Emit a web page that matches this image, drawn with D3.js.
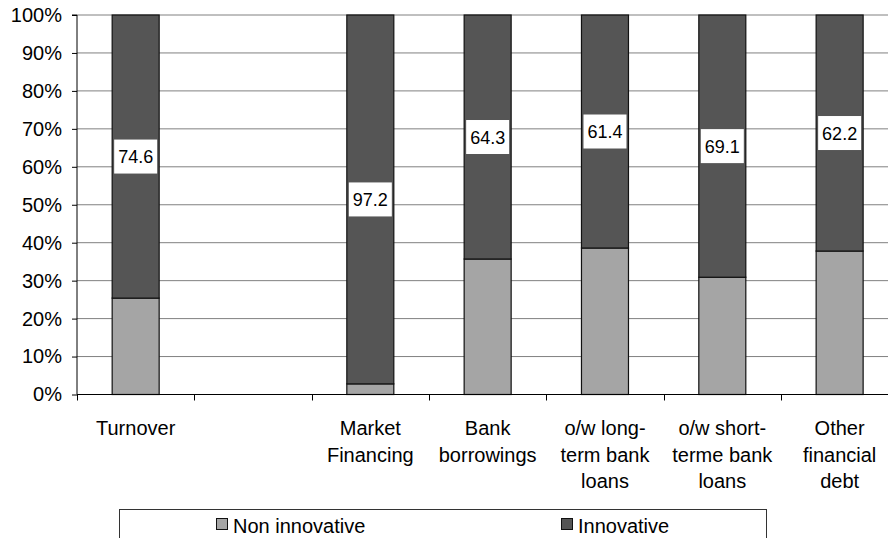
<!DOCTYPE html>
<html>
<head>
<meta charset="utf-8">
<script src="https://cdn.jsdelivr.net/npm/d3@7"></script>
<style>
  html, body { margin: 0; padding: 0; background: #fff; }
  svg { display: block; font-family: "Liberation Sans", Arial, sans-serif; }
</style>
</head>
<body>
<svg id="chart" width="888" height="538"></svg>
<script>
// Category labels, one array entry per line of text ("" = empty slot)
const categories = [
  ["Turnover"],
  [""],
  ["Market", "Financing"],
  ["Bank", "borrowings"],
  ["o/w long-", "term bank", "loans"],
  ["o/w short-", "terme bank", "loans"],
  ["Other", "financial", "debt"]
];
// Shares (%) of each financing item
const nonInnovative = [25.4, null, 2.8, 35.7, 38.6, 30.9, 37.8];
const innovative    = [74.6, null, 97.2, 64.3, 61.4, 69.1, 62.2];
const yTicks = [0, 10, 20, 30, 40, 50, 60, 70, 80, 90, 100];
const seriesNames = ["Non innovative", "Innovative"];
const seriesColors = ["#a5a5a5", "#555555"];

const svg = d3.select("#chart");
const plotLeft = 77, plotRight = 898.3, plotTop = 15, plotBottom = 394.5;

const x = d3.scaleBand().domain(d3.range(categories.length)).range([plotLeft, plotRight]).padding(0);
const y = d3.scaleLinear().domain([0, 100]).range([plotBottom, plotTop]);
const barW = 47;

// Horizontal gridlines
svg.append("g")
  .selectAll("line")
  .data(yTicks.filter(t => t > 0))
  .join("line")
  .attr("x1", plotLeft).attr("x2", 888)
  .attr("y1", d => y(d)).attr("y2", d => y(d))
  .attr("stroke", "#808080").attr("stroke-width", 1);

// Stacked bars
const rows = categories.map((c, i) => ({ i, non: nonInnovative[i], inn: innovative[i] }))
  .filter(r => r.non != null);
const stack = d3.stack().keys(["non", "inn"]);
const layers = stack(rows);

svg.append("g")
  .selectAll("g")
  .data(layers)
  .join("g")
  .attr("fill", (d, k) => seriesColors[k])
  .selectAll("rect")
  .data(d => d)
  .join("rect")
  .attr("x", d => x(d.data.i) + x.bandwidth() / 2 - barW / 2)
  .attr("width", barW)
  .attr("y", d => y(d[1]))
  .attr("height", d => y(d[0]) - y(d[1]))
  .attr("stroke", "#111")
  .attr("stroke-width", 1.2);

// Y axis
const yAxis = d3.axisLeft(y).tickValues(yTicks).tickFormat(d => d + "%").tickSize(5).tickPadding(10);
const gy = svg.append("g").attr("transform", `translate(${plotLeft},0)`).call(yAxis);
gy.select(".domain").attr("stroke", "#000").attr("d", `M-5,${plotTop}H0V${plotBottom}`);
gy.selectAll(".tick line").attr("stroke", "#000");
gy.selectAll(".tick text").attr("font-size", 20).attr("fill", "#000")
  .attr("font-family", "'Liberation Sans', Arial, sans-serif");

// X axis with ticks on band boundaries
const gx = svg.append("g");
gx.append("line")
  .attr("x1", plotLeft).attr("x2", 888)
  .attr("y1", plotBottom).attr("y2", plotBottom)
  .attr("stroke", "#000");
gx.selectAll("line.tk")
  .data(d3.range(categories.length + 1))
  .join("line")
  .attr("class", "tk")
  .attr("x1", i => Math.round(plotLeft + i * x.bandwidth()) + 0.5)
  .attr("x2", i => Math.round(plotLeft + i * x.bandwidth()) + 0.5)
  .attr("y1", plotBottom).attr("y2", plotBottom + 6)
  .attr("stroke", "#000");

// Category labels
const lab = svg.append("g").attr("font-size", 20).attr("fill", "#000").attr("text-anchor", "middle");
categories.forEach((lines, i) => {
  const t = lab.append("text").attr("x", x(i) + x.bandwidth() / 2);
  lines.forEach((ln, k) => {
    t.append("tspan")
      .attr("x", x(i) + x.bandwidth() / 2)
      .attr("y", 435 + k * 26.5)
      .text(ln);
  });
});

// Value labels in white boxes, centred on the innovative segment
const innLayer = layers[1];
const vl = svg.append("g");
innLayer.forEach(d => {
  const cx = x(d.data.i) + x.bandwidth() / 2;
  const cy = (y(d[0]) + y(d[1])) / 2;
  vl.append("rect")
    .attr("x", cx - 21.5).attr("y", cy - 17)
    .attr("width", 43).attr("height", 34)
    .attr("fill", "#fff");
  vl.append("text")
    .attr("x", cx).attr("y", cy + 6.5)
    .attr("text-anchor", "middle")
    .attr("font-size", 18)
    .attr("fill", "#000")
    .text(d3.format(".1f")(d.data.inn));
});

// Legend
const lg = svg.append("g");
lg.append("rect")
  .attr("x", 119.5).attr("y", 509.5)
  .attr("width", 647).attr("height", 40)
  .attr("fill", "#fff").attr("stroke", "#333");
const legendX = [216, 561];
seriesNames.forEach((name, k) => {
  lg.append("rect")
    .attr("x", legendX[k] + 0.5).attr("y", 518.5)
    .attr("width", 11).attr("height", 11)
    .attr("fill", seriesColors[k]).attr("stroke", "#111");
  lg.append("text")
    .attr("x", legendX[k] + 17).attr("y", 533)
    .attr("font-size", 20).attr("fill", "#000")
    .text(name);
});
</script>
</body>
</html>
